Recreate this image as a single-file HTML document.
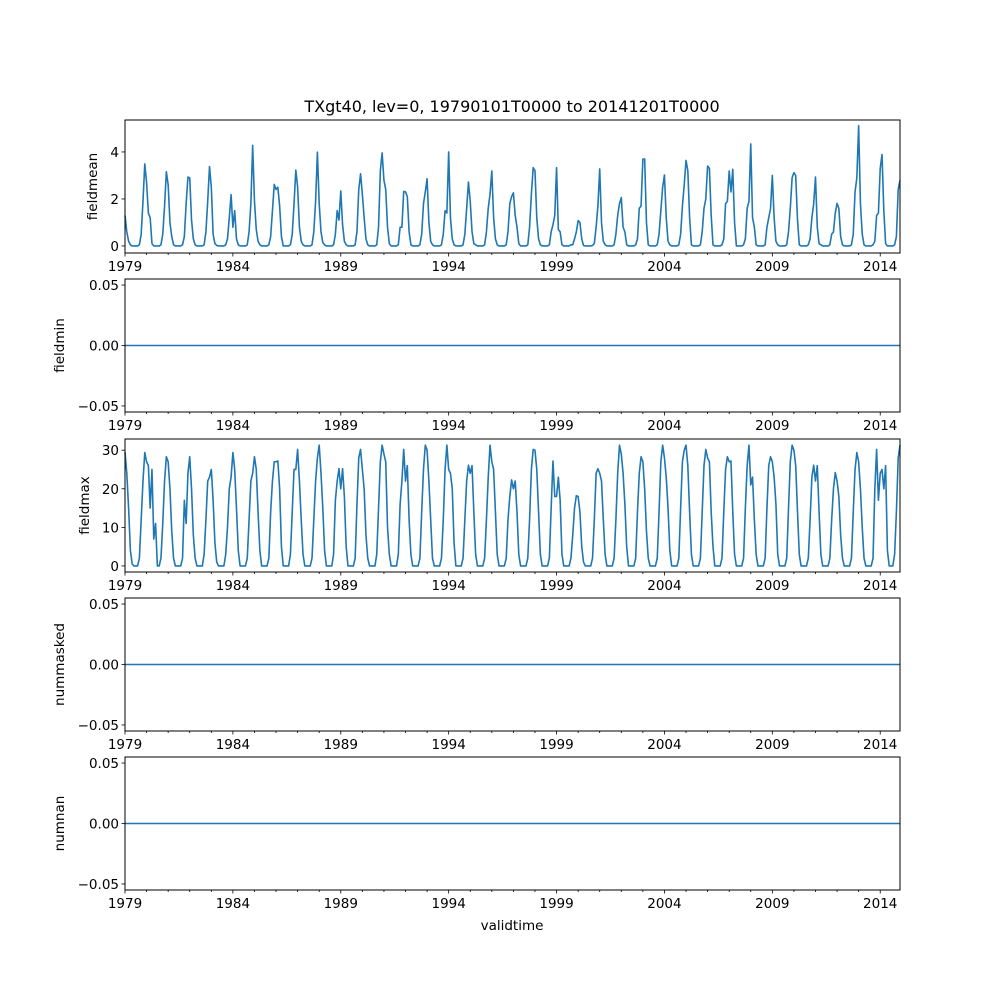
<!DOCTYPE html>
<html><head><meta charset="utf-8"><style>
html,body{margin:0;padding:0;background:#fff;}
svg text{font-family:"DejaVu Sans","Liberation Sans",sans-serif;font-size:13.5px;fill:#000;}
</style></head><body>
<svg id="fig" width="1000" height="1000" viewBox="0 0 1000 1000" xmlns="http://www.w3.org/2000/svg">
<rect x="0" y="0" width="1000" height="1000" fill="#fff"/>
<text x="512" y="112" text-anchor="middle" style="font-size:16px">TXgt40, lev=0, 19790101T0000 to 20141201T0000</text>
<text x="512" y="930" text-anchor="middle">validtime</text>
</svg>
<script>
// monthly data, Jan 1979 .. Dec 2014, one row per year
const fieldmean = [
1.3,0.6,0.2,0.05,0,0,0,0,0.05,0.5,1.9,3.49,
2.7,1.4,1.2,0.1,0,0,0,0,0.05,0.5,1.7,3.16,
2.6,1.0,0.4,0.05,0,0,0,0,0.05,0.4,1.8,2.93,
2.9,1.1,0.3,0.05,0,0,0,0,0.05,0.6,1.9,3.38,
2.5,0.5,0.1,0.02,0,0,0,0,0.05,0.3,1.2,2.18,
0.8,1.5,0.3,0.05,0,0,0,0,0.05,0.6,1.8,4.28,
1.9,0.7,0.2,0.05,0,0,0,0,0.05,0.4,1.5,2.62,
2.4,2.5,1.7,0.4,0,0,0,0,0.05,0.5,1.8,3.23,
2.5,0.8,0.2,0.05,0,0,0,0,0.05,0.6,1.9,3.99,
1.8,0.6,0.15,0.05,0,0,0,0,0.05,0.5,1.5,1.1,
2.34,0.9,0.2,0.05,0,0,0,0,0.05,0.6,2.4,3.07,
2.2,1.2,0.3,0.05,0,0,0,0,0.05,0.8,3.2,3.96,
2.8,2.4,0.8,0.1,0,0,0,0,0.05,0.8,0.8,2.32,
2.3,2.1,0.6,0.05,0,0,0,0,0.05,0.5,1.8,2.3,
2.86,1.0,0.2,0.05,0,0,0,0,0.05,0.5,1.5,1.4,
4.0,1.2,0.3,0.05,0,0,0,0,0.05,0.5,1.6,2.72,
1.9,0.6,0.1,0.05,0,0,0,0,0.05,0.6,1.6,2.2,
3.19,1.2,0.3,0.05,0,0,0,0,0.05,0.6,1.8,2.1,
2.26,1.3,0.8,0.1,0,0,0,0,0.05,0.8,2.2,3.33,
3.2,1.2,0.3,0.05,0,0,0,0,0.05,0.6,0.9,1.3,
3.33,0.7,0.6,0.05,0,0,0,0,0.05,0.05,0.3,0.6,
1.08,1.0,0.3,0.02,0,0,0,0,0.02,0.1,0.8,1.7,
3.28,1.0,0.2,0.05,0,0,0,0,0.05,0.5,1.3,1.8,
2.06,0.8,0.6,0.05,0,0,0,0,0.05,0.3,1.6,1.7,
3.7,3.7,1.0,0.05,0,0,0,0,0.05,0.5,1.5,2.5,
3.02,1.2,0.2,0.05,0,0,0,0,0.05,0.5,1.7,2.6,
3.64,3.2,1.2,0.05,0,0,0,0,0.05,0.6,1.6,2.0,
3.4,3.3,1.3,0.05,0,0,0,0,0.05,0.3,1.8,1.9,
3.19,2.3,3.26,1.0,0,0,0,0,0.05,0.3,1.6,1.9,
4.34,1.2,0.8,0.05,0,0,0,0,0.05,0.8,1.2,1.6,
3.0,1.2,0.2,0.05,0,0,0,0,0.05,0.6,1.6,2.9,
3.12,3.0,1.1,0.05,0,0,0,0,0.05,0.3,1.2,1.8,
2.93,0.8,0.1,0.05,0,0,0,0,0.05,0.5,0.6,1.4,
1.81,1.6,0.4,0.05,0,0,0,0,0.05,0.5,2.3,2.9,
5.12,1.8,0.5,0.05,0,0,0,0,0.05,0.2,1.3,1.4,
3.3,3.89,1.5,0.1,0,0,0,0,0.05,0.4,2.4,2.79];
const fieldmax = [
29.5,24,15,4,0.5,0,0,0,2,12,22,29.4,
27,26,15,25,7,11,0,0,2,11,22,28.3,
27,20,9,2,0,0,0,0,2,17,11,24,
28.3,20,8,2,0,0,0,0,3,12,22,23,
25,17,6,1,0,0,0,0,3,10,20,23,
29.4,25,15,4,0,0,0,0,2,12,22,24,
28.3,25,14,4,0,0,0,0,2,14,22,27,
27,27.2,20,5,0,0,0,0,3,14,25,25,
30.2,22,12,3,0,0,0,0,2,12,22,28,
31.3,24,15,4,0,0,0,0,3,17,22,25.2,
20,25.2,18,5,0,0,0,0,2,16,28,30.2,
25,20,8,2,0,0,0,0,3,15,27,31.3,
29,27,10,3,0,0,0,0,3,16,22,30.2,
22,26,12,3,0,0,0,0,2,14,25,31.3,
30,22,12,2,0,0,0,0,2,12,25,31.3,
25,24,20,6,0,0,0,0,2,12,22,26.1,
24,26,14,3,0,0,0,0,2,12,23,31.3,
27,25,14,3,0,0,0,0,2,12,18,22.3,
20,22,14,3,0,0,0,0,2,12,25,30.2,
30,25,14,3,0,0,0,0,2,15,27.2,18,
18,23,17,3,0,0,0,0,2,8,15,18.2,
18,14,5,1,0,0,0,0,2,12,24,25.2,
24,22,12,3,0,0,0,0,2,12,24,31.3,
29,24,16,5,0,0,0,0,2,14,24,28.3,
27,20,9,2,0,0,0,0,2,14,27,31.3,
28,23,15,4,0,0,0,0,2,15,27,30,
31.3,26,14,3,0,0,0,0,2,14,26,30.2,
28,27,14,5,0,0,0,0,2,14,25,28.3,
27,27.2,14,3,0,0,0,0,2,15,26,31.3,
21,23,12,3,0,0,0,0,2,15,26,28.3,
27,23,16,3,0,0,0,0,2,15,27,31.3,
30,26,14,3,0,0,0,0,2,12,23,26.1,
22,26,14,3,0,0,0,0,2,12,20,24.2,
22,18,8,2,0,0,0,0,2,14,25,29.4,
27,20,10,2,0,0,0,0,2,20,30.2,17,
24,25,20,26,4,0,0,0,3,14,28,31.3];
const fieldmin = new Array(432).fill(0);
const nummasked = new Array(432).fill(0);
const numnan = new Array(432).fill(0);
const xTickLabels = ["1979","1984","1989","1994","1999","2004","2009","2014"];
const meanTicks = ["0","2","4"], meanTickVals=[0,2,4];
const maxTicks = ["0","10","20","30"], maxTickVals=[0,10,20,30];
const zeroTicks = ["−0.05","0.00","0.05"], zeroTickVals=[-0.05,0,0.05];

const NS="http://www.w3.org/2000/svg";
const svg=document.getElementById('fig');
const L=125,R=900,H=133;
const T0=1979, T1=2014+11/12;
function xs(t){return L+(t-T0)*(R-L)/(T1-T0);}
function mk(tag,attrs,parent){const e=document.createElementNS(NS,tag);for(const k in attrs)e.setAttribute(k,attrs[k]);(parent||svg).appendChild(e);return e;}

const panels=[
 {top:120,data:fieldmean,lo:-0.3,hi:5.36,tl:meanTicks,tv:meanTickVals,label:"fieldmean",name:"fieldmean-panel"},
 {top:279,data:fieldmin,lo:-0.055,hi:0.055,tl:zeroTicks,tv:zeroTickVals,label:"fieldmin",name:"fieldmin-panel"},
 {top:439,data:fieldmax,lo:-1.57,hi:32.9,tl:maxTicks,tv:maxTickVals,label:"fieldmax",name:"fieldmax-panel"},
 {top:598,data:nummasked,lo:-0.055,hi:0.055,tl:zeroTicks,tv:zeroTickVals,label:"nummasked",name:"nummasked-panel"},
 {top:757,data:numnan,lo:-0.055,hi:0.055,tl:zeroTicks,tv:zeroTickVals,label:"numnan",name:"numnan-panel"}
];
panels.forEach(p=>{
 const g=mk('g',{});
 
 
 const ys=v=>p.top+H-(v-p.lo)*H/(p.hi-p.lo);
 let d="";
 p.data.forEach((v,i)=>{const t=T0+i/12;d+=(i?"L":"M")+xs(t).toFixed(2)+","+ys(v).toFixed(2);});
 const line=mk('path',{d:d,fill:"none",stroke:"#1f77b4","stroke-width":1.6,"stroke-linejoin":"round"},g);
 
 
 const frame=mk('rect',{x:L,y:p.top,width:R-L,height:H,fill:"none",stroke:"#000","stroke-width":1},g);
 
 
 // y ticks
 p.tv.forEach((v,i)=>{
  const y=ys(v);
  mk('line',{x1:L-3.5,x2:L,y1:y,y2:y,stroke:"#000","stroke-width":0.8},g);
  const t=mk('text',{x:L-6,y:y+5,"text-anchor":"end"},g);t.textContent=p.tl[i];
  
  
 });
 // x ticks
 for(let yr=1979;yr<=2014;yr++){
  const x=xs(yr);const major=(yr-1979)%5===0;
  mk('line',{x1:x,x2:x,y1:p.top+H,y2:p.top+H+(major?3.5:2),stroke:"#000","stroke-width":0.8},g);
 }
 xTickLabels.forEach(s=>{
  const t=mk('text',{x:xs(+s),y:p.top+H+18,"text-anchor":"middle"},g);t.textContent=s;
  
  
 });
 const yl=mk('text',{x:0,y:0,"text-anchor":"middle",transform:`translate(${p.tv.length===3&&p.hi<1?64:(p.label==='fieldmax'?89:97)},${p.top+H/2}) rotate(-90)`},g);
 yl.textContent=p.label;
 
 
});
</script>
</body></html>
